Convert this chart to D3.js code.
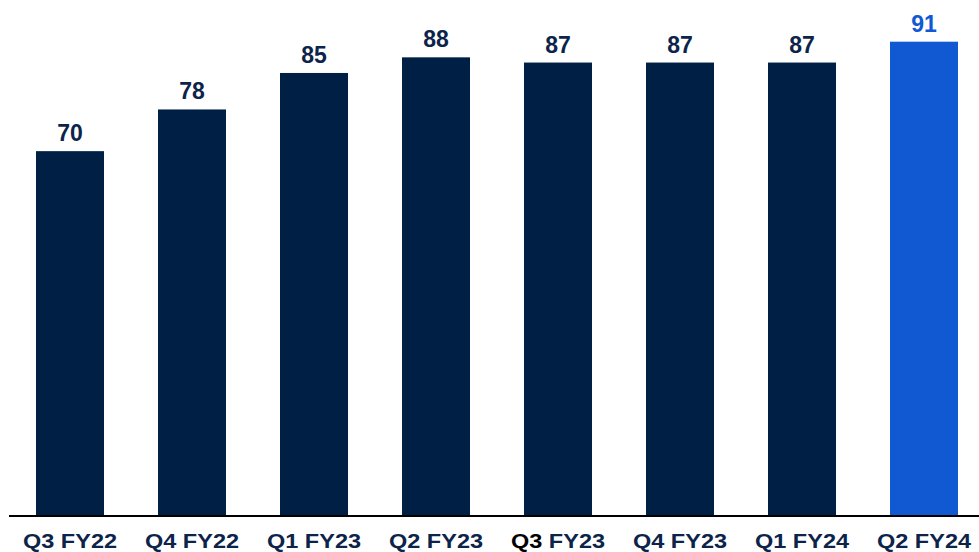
<!DOCTYPE html>
<html>
<head>
<meta charset="utf-8">
<script src="https://cdn.jsdelivr.net/npm/d3@7"></script>
<style>
  body { margin: 0; background: #fff; }
  text { font-family: "Liberation Sans", Arial, sans-serif; font-weight: bold; }
</style>
</head>
<body>
<div id="chart"></div>
<script>
// quarterly values
const quarters = ['Q3', 'Q4', 'Q1', 'Q2', 'Q3', 'Q4', 'Q1', 'Q2']
const years = ['FY22', 'FY22', 'FY23', 'FY23', 'FY23', 'FY23', 'FY24', 'FY24']
const values = [70, 78, 85, 88, 87, 87, 87, 91]

const width = 979
const height = 552
const navy = '#001f45'
const blue = '#1158d3'
const textNavy = '#0c2449'
const stretch = 1.12

const labels = quarters.map((q, i) => q + ' ' + years[i])

const svg = d3.select('#chart')
  .append('svg')
  .attr('width', width)
  .attr('height', height)

const x = d3.scaleBand()
  .domain(labels)
  .range([9, 985])
  .paddingInner(54 / 122)
  .paddingOuter(27 / 122)

const y = d3.scaleLinear()
  .domain([0, 99])
  .range([516, 0])

const isLast = i => i === values.length - 1

// bars
svg.selectAll('rect')
  .data(values)
  .enter()
  .append('rect')
  .attr('x', (d, i) => x(labels[i]))
  .attr('y', d => y(d))
  .attr('width', x.bandwidth())
  .attr('height', d => y(0) - y(d))
  .attr('fill', (d, i) => isLast(i) ? blue : navy)

// value labels
svg.selectAll('.val')
  .data(values)
  .enter()
  .append('text')
  .attr('class', 'val')
  .attr('x', (d, i) => x(labels[i]) + x.bandwidth() / 2)
  .attr('y', d => y(d) - 10)
  .attr('text-anchor', 'middle')
  .attr('font-size', 23)
  .attr('fill', (d, i) => isLast(i) ? blue : textNavy)
  .text(d => d)

// baseline
svg.append('line')
  .attr('x1', 9)
  .attr('x2', width)
  .attr('y1', 516)
  .attr('y2', 516)
  .attr('stroke', '#000')
  .attr('stroke-width', 2)

// category labels
const cat = svg.selectAll('.cat')
  .data(labels)
  .enter()
  .append('text')
  .attr('class', 'cat')
  .attr('transform', d => `translate(${x(d) + x.bandwidth() / 2},548) scale(${stretch},1)`)
  .attr('text-anchor', 'middle')
  .attr('font-size', 21)
  .attr('fill', textNavy)

cat.append('tspan')
  .attr('fill', (d, i) => i === 4 ? '#000' : textNavy)
  .text((d, i) => quarters[i] + ' ')
cat.append('tspan')
  .text((d, i) => years[i])
</script>
</body>
</html>
